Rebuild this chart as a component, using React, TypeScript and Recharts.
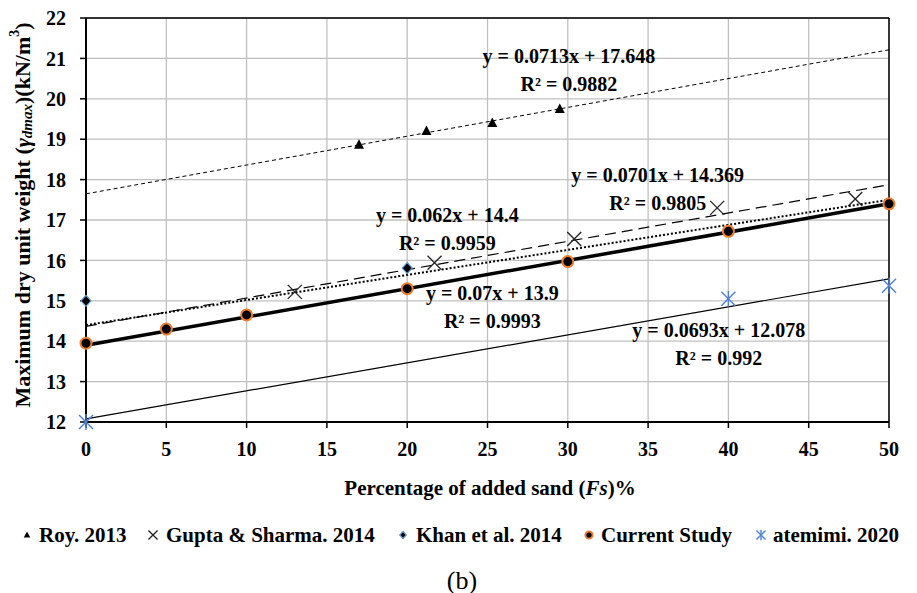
import { ScatterChart, Scatter, XAxis, YAxis, CartesianGrid, ReferenceLine } from 'recharts';

const FONT = '"Liberation Serif", "Times New Roman", serif';
const BLUE = '#4f81d9';
const ORANGE = '#ed7d31';

const xTicks = [0, 5, 10, 15, 20, 25, 30, 35, 40, 45, 50];
const yTicks = [12, 13, 14, 15, 16, 17, 18, 19, 20, 21, 22];

// measured points
const royX = [17, 21.2, 25.3, 29.5];
const royY = [18.86, 19.2, 19.4, 19.75];

const guptaX = [13, 21.7, 30.4, 39.3, 47.9];
const guptaY = [15.22, 15.94, 16.53, 17.3, 17.52];

const khanX = [0, 20];
const khanY = [15, 15.81];

const currentX = [0, 5, 10, 20, 30, 40, 50];
const currentY = [13.95, 14.3, 14.65, 15.3, 15.97, 16.72, 17.4];

const atemimiX = [0, 40, 50];
const atemimiY = [12, 15.05, 15.37];

// linear trend lines, value at x = 0 and x = 50
const trendX = [0, 50];
const royTrend = [17.648, 21.213];
const guptaTrend = [14.369, 17.874];
const khanTrend = [14.4, 17.5];
const currentTrend = [13.9, 17.4];
const atemimiTrend = [12.078, 15.543];

const equations = [
  { eq: 'y = 0.0713x + 17.648', r2: 'R² = 0.9882', x: 30.07, y: 21.06 },
  { eq: 'y = 0.0701x + 14.369', r2: 'R² = 0.9805', x: 35.6, y: 18.12 },
  { eq: 'y = 0.062x + 14.4', r2: 'R² = 0.9959', x: 22.5, y: 17.12 },
  { eq: 'y = 0.07x + 13.9', r2: 'R² = 0.9993', x: 25.3, y: 15.19 },
  { eq: 'y = 0.0693x + 12.078', r2: 'R² = 0.992', x: 39.4, y: 14.28 },
];

const toPoints = (xs: number[], ys: number[]) => xs.map((x, i) => ({ x, y: ys[i] }));

type P = { cx?: number; cy?: number; payload?: any; s?: number };

const Triangle = ({ cx = 0, cy = 0, s = 1 }: P) => (
  <path d={`M${cx},${cy - 5.5 * s} L${cx + 5 * s},${cy + 4 * s} L${cx - 5 * s},${cy + 4 * s} Z`} fill="#000" />
);

const Cross = ({ cx = 0, cy = 0, s = 1 }: P) => (
  <g stroke="#222" strokeWidth={1.3}>
    <line x1={cx - 7 * s} y1={cy - 7 * s} x2={cx + 7 * s} y2={cy + 7 * s} />
    <line x1={cx - 7 * s} y1={cy + 7 * s} x2={cx + 7 * s} y2={cy - 7 * s} />
  </g>
);

const Diamond = ({ cx = 0, cy = 0, s = 1 }: P) => (
  <path
    d={`M${cx},${cy - 5.5 * s} L${cx + 5 * s},${cy} L${cx},${cy + 5.5 * s} L${cx - 5 * s},${cy} Z`}
    fill="#000"
    stroke="#5b9bd5"
    strokeWidth={1.2}
  />
);

const Dot = ({ cx = 0, cy = 0, s = 1 }: P) => (
  <circle cx={cx} cy={cy} r={5.5 * s} fill="#000" stroke={ORANGE} strokeWidth={2} />
);

const Star = ({ cx = 0, cy = 0, s = 1 }: P) => (
  <g stroke={BLUE} strokeWidth={1.4}>
    <line x1={cx - 7 * s} y1={cy - 7 * s} x2={cx + 7 * s} y2={cy + 7 * s} />
    <line x1={cx - 7 * s} y1={cy + 7 * s} x2={cx + 7 * s} y2={cy - 7 * s} />
    <line x1={cx} y1={cy - 8 * s} x2={cx} y2={cy + 8 * s} />
  </g>
);

const Nothing = () => <g />;

const EquationLabel = ({ cx = 0, cy = 0, payload }: P) => (
  <g fontFamily={FONT} fontWeight={700} fontSize={20} fill="#000" textAnchor="middle">
    <text x={cx} y={cy} dominantBaseline="central">{payload?.eq}</text>
    <text x={cx} y={cy + 28} dominantBaseline="central">{payload?.r2}</text>
  </g>
);

const legendItems = [
  { name: 'Roy. 2013', Icon: Triangle, ix: 27, tx: 39 },
  { name: 'Gupta & Sharma. 2014', Icon: Cross, ix: 153, tx: 166 },
  { name: 'Khan et al. 2014', Icon: Diamond, ix: 403, tx: 416 },
  { name: 'Current Study', Icon: Dot, ix: 589, tx: 601 },
  { name: 'atemimi. 2020', Icon: Star, ix: 761, tx: 773 },
];

const tickStyle = { fontFamily: FONT, fontSize: 20, fontWeight: 700, fill: '#000' };

export default function App() {
  return (
    <div style={{ position: 'absolute', left: 0, top: 0, width: 917, height: 593, background: '#fff' }}>
      <ScatterChart width={917} height={593} margin={{ top: 18, right: 28, left: 26, bottom: 131 }}>
        <CartesianGrid stroke="#c0c0c0" strokeWidth={1.3} />
        <XAxis
          type="number"
          dataKey="x"
          domain={[0, 50]}
          ticks={xTicks}
          height={40}
          tick={tickStyle}
          tickSize={6}
          tickMargin={14}
          axisLine={{ stroke: '#000', strokeWidth: 2 }}
          tickLine={{ stroke: '#000', strokeWidth: 1.5 }}
        />
        <YAxis
          type="number"
          dataKey="y"
          domain={[12, 22]}
          ticks={yTicks}
          width={60}
          tick={tickStyle}
          tickSize={6}
          tickMargin={14}
          axisLine={{ stroke: '#000', strokeWidth: 2 }}
          tickLine={{ stroke: '#000', strokeWidth: 1.5 }}
        />
        <ReferenceLine y={22} stroke="#000" strokeWidth={1.5} />
        <ReferenceLine x={50} stroke="#000" strokeWidth={1.5} />

        <Scatter data={toPoints(trendX, royTrend)} line={{ stroke: '#000', strokeWidth: 1, strokeDasharray: '4 3' }} lineType="joint" shape={Nothing} isAnimationActive={false} />
        <Scatter data={toPoints(trendX, guptaTrend)} line={{ stroke: '#000', strokeWidth: 1.2, strokeDasharray: '11 6' }} lineType="joint" shape={Nothing} isAnimationActive={false} />
        <Scatter data={toPoints(trendX, khanTrend)} line={{ stroke: '#000', strokeWidth: 2, strokeDasharray: '2 2' }} lineType="joint" shape={Nothing} isAnimationActive={false} />
        <Scatter data={toPoints(trendX, currentTrend)} line={{ stroke: '#000', strokeWidth: 3.5 }} lineType="joint" shape={Nothing} isAnimationActive={false} />
        <Scatter data={toPoints(trendX, atemimiTrend)} line={{ stroke: '#000', strokeWidth: 1.2 }} lineType="joint" shape={Nothing} isAnimationActive={false} />

        <Scatter data={toPoints(royX, royY)} shape={Triangle} isAnimationActive={false} />
        <Scatter data={toPoints(guptaX, guptaY)} shape={Cross} isAnimationActive={false} />
        <Scatter data={toPoints(khanX, khanY)} shape={Diamond} isAnimationActive={false} />
        <Scatter data={toPoints(currentX, currentY)} shape={Dot} isAnimationActive={false} />
        <Scatter data={toPoints(atemimiX, atemimiY)} shape={Star} isAnimationActive={false} />

        <Scatter data={equations} shape={EquationLabel} isAnimationActive={false} />
      </ScatterChart>

      <svg
        width={917}
        height={593}
        style={{ position: 'absolute', left: 0, top: 0, pointerEvents: 'none' }}
        fontFamily={FONT}
      >
        <text
          transform="translate(22,215) rotate(-90)"
          textAnchor="middle"
          dominantBaseline="central"
          fontSize={22}
          fontWeight={700}
          fill="#000"
        >
          Maximum dry unit weight (
          <tspan fontStyle="italic">γ</tspan>
          <tspan fontStyle="italic" fontSize={15} dy={5}>dmax</tspan>
          <tspan dy={-5}>)(kN/m</tspan>
          <tspan fontSize={14} dy={-8}>3</tspan>
          <tspan dy={8}>)</tspan>
        </text>
        <text x={490} y={488} textAnchor="middle" dominantBaseline="central" fontSize={21} fontWeight={700} fill="#000">
          Percentage of added sand (<tspan fontStyle="italic">Fs</tspan>)%
        </text>
        {legendItems.map(({ name, Icon, ix, tx }) => (
          <g key={name}>
            <Icon cx={ix} cy={535} s={0.65} />
            <text x={tx} y={535} dominantBaseline="central" fontSize={21} fontWeight={700} fill="#000">
              {name}
            </text>
          </g>
        ))}
        <text x={462} y={580} textAnchor="middle" dominantBaseline="central" fontSize={26} fill="#000">
          (b)
        </text>
      </svg>
    </div>
  );
}
